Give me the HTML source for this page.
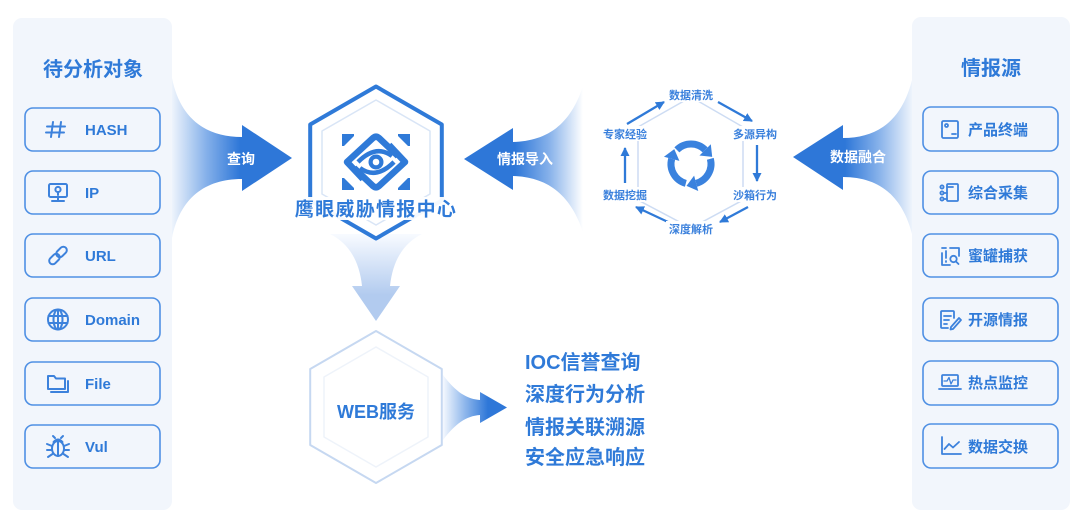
<!DOCTYPE html>
<html><head><meta charset="utf-8">
<style>
html,body{margin:0;padding:0;background:#fff;}
svg{display:block;}
text{font-family:"Liberation Sans","Noto Sans CJK SC",sans-serif;font-weight:bold;}
</style></head>
<body>
<svg width="1080" height="526" viewBox="0 0 1080 526" xmlns="http://www.w3.org/2000/svg">
<defs>
  <linearGradient id="gQ" gradientUnits="userSpaceOnUse" x1="172" y1="0" x2="240" y2="0">
    <stop offset="0" stop-color="#eef4fc"/><stop offset="0.5" stop-color="#86b1ea"/><stop offset="1" stop-color="#2e77d8"/>
  </linearGradient>
  <linearGradient id="gI" gradientUnits="userSpaceOnUse" x1="583" y1="0" x2="515" y2="0">
    <stop offset="0" stop-color="#ffffff"/><stop offset="0.5" stop-color="#86b1ea"/><stop offset="1" stop-color="#2e77d8"/>
  </linearGradient>
  <linearGradient id="gD" gradientUnits="userSpaceOnUse" x1="912" y1="0" x2="845" y2="0">
    <stop offset="0" stop-color="#eef4fc"/><stop offset="0.5" stop-color="#86b1ea"/><stop offset="1" stop-color="#2e77d8"/>
  </linearGradient>
  <linearGradient id="gW" gradientUnits="userSpaceOnUse" x1="443" y1="0" x2="488" y2="0">
    <stop offset="0" stop-color="#f4f8fe"/><stop offset="0.5" stop-color="#8cb5eb"/><stop offset="1" stop-color="#2e77d8"/>
  </linearGradient>
  <linearGradient id="gDown" gradientUnits="userSpaceOnUse" x1="0" y1="235" x2="0" y2="295">
    <stop offset="0" stop-color="#f7faff"/><stop offset="1" stop-color="#b2cbef"/>
  </linearGradient>
  <marker id="ah" markerUnits="userSpaceOnUse" markerWidth="10" markerHeight="10" refX="8" refY="5" orient="auto">
    <path d="M0,0.5 L9,5 L0,9.5 Z" fill="#2f7ad8"/>
  </marker>
</defs>

<!-- Left panel -->
<rect x="13" y="18" width="159" height="492" rx="9" fill="#f2f6fc"/>
<text x="93" y="76" font-size="20" fill="#2f7ad8" text-anchor="middle">待分析对象</text>
<g fill="none" stroke="#4f90e4" stroke-width="1.6">
  <rect x="25" y="108" width="135" height="43" rx="8"/>
  <rect x="25" y="171" width="135" height="43" rx="8"/>
  <rect x="25" y="234" width="135" height="43" rx="8"/>
  <rect x="25" y="298" width="135" height="43" rx="8"/>
  <rect x="25" y="362" width="135" height="43" rx="8"/>
  <rect x="25" y="425" width="135" height="43" rx="8"/>
</g>
<g font-size="15" fill="#2f7ad8">
  <text x="85" y="135">HASH</text>
  <text x="85" y="198">IP</text>
  <text x="85" y="261">URL</text>
  <text x="85" y="325">Domain</text>
  <text x="85" y="389">File</text>
  <text x="85" y="452">Vul</text>
</g>
<!-- left icons -->
<g fill="none" stroke="#3d82dc" stroke-width="2" stroke-linecap="round" stroke-linejoin="round">
  <path d="M53,122 L51,137 M61,122 L59,137 M47,126.5 L65,126.5 M46,132.5 L64,132.5"/>
  <rect x="49" y="184" width="18" height="13" rx="1.5"/>
  <path d="M52,201 L64,201 M58,197 L58,201"/>
  <circle cx="58" cy="189.5" r="2.6"/>
  <path d="M58,192 L58,195"/>
  <g transform="rotate(-45 58 255.5)">
    <rect x="47" y="252" width="12" height="7" rx="3.5"/>
    <rect x="57" y="252" width="12" height="7" rx="3.5"/>
  </g>
  <circle cx="58" cy="319.5" r="10"/>
  <ellipse cx="58" cy="319.5" rx="4.5" ry="10"/>
  <path d="M48.5,316 L67.5,316 M48.5,323 L67.5,323 M58,309.5 L58,329.5"/>
  <path d="M48,376 L54,376 L56,378.5 L65,378.5 L65,389 L48,389 Z"/>
  <path d="M68,381 L68,392 L51,392"/>
  <ellipse cx="58" cy="448.5" rx="6" ry="7.5"/>
  <path d="M53.5,442 Q58,437 62.5,442 M58,441 L58,456 M52,446 L47,444 M52,450 L47,450 M52.5,454 L48,457 M64,446 L69,444 M64,450 L69,450 M63.5,454 L68,457 M55,438 L53,436 M61,438 L63,436"/>
</g>

<!-- Right panel -->
<rect x="912" y="17" width="158" height="493" rx="9" fill="#f2f6fc"/>
<text x="991" y="75" font-size="20" fill="#2f7ad8" text-anchor="middle">情报源</text>
<g fill="none" stroke="#4f90e4" stroke-width="1.6">
  <rect x="923" y="107" width="135" height="44" rx="8"/>
  <rect x="923" y="171" width="135" height="43" rx="8"/>
  <rect x="923" y="234" width="135" height="43" rx="8"/>
  <rect x="923" y="298" width="135" height="43" rx="8"/>
  <rect x="923" y="361" width="135" height="44" rx="8"/>
  <rect x="923" y="424" width="135" height="44" rx="8"/>
</g>
<g font-size="15" fill="#2f7ad8">
  <text x="968" y="135">产品终端</text>
  <text x="968" y="198">综合采集</text>
  <text x="968" y="261">蜜罐捕获</text>
  <text x="968" y="325">开源情报</text>
  <text x="968" y="388">热点监控</text>
  <text x="968" y="452">数据交换</text>
</g>
<!-- right icons -->
<g fill="none" stroke="#3d82dc" stroke-width="1.8" stroke-linecap="round" stroke-linejoin="round">
  <rect x="942" y="121" width="16" height="17" rx="1.5"/>
  <circle cx="946.5" cy="125.5" r="1.5"/>
  <path d="M952,134 L956,134"/>
  <rect x="947" y="184" width="11" height="17" rx="1"/>
  <path d="M947,187 L953,187"/>
  <circle cx="942" cy="187" r="1.6"/><circle cx="942" cy="193" r="1.6"/><circle cx="942" cy="199" r="1.6"/>
  <path d="M943.6,193 L947,193 M943.6,199 L947,199"/>
  <path d="M950,248 L959,248 L959,256 M942,253 L942,265 L950,265 M942,248 L946,248"/>
  <path d="M946,251 L946,258 M946,261 L946,262"/>
  <circle cx="953.5" cy="259" r="3.2"/>
  <path d="M956,261.5 L958.5,264"/>
  <path d="M954,318 L954,312 Q954,311 953,311 L942,311 Q941,311 941,312 L941,327 Q941,328 942,328 L948,328"/>
  <path d="M944,316 L951,316 M944,320 L949,320 M944,324 L947,324"/>
  <path d="M951,327 L959,318 L961,320 L953,329 L950.5,329.5 Z"/>
  <rect x="942" y="375" width="16" height="11" rx="1"/>
  <path d="M939,389 L961,389"/>
  <path d="M944,381 L947,381 L949,377.5 L951,384 L953,380 L956,380" stroke-width="1.3"/>
  <path d="M942,437 L942,454 L961,454"/>
  <path d="M944.5,449 L949,444 L953,447.5 L959,442"/>
</g>

<!-- 查询 arrow -->
<path d="M172,78 C180,118 205,137 242,137 L242,125 L292,158 L242,191 L242,179 C205,179 180,198 172,238 Z" fill="url(#gQ)"/>
<text x="241" y="164" font-size="14" fill="#ffffff" text-anchor="middle">查询</text>

<!-- 情报导入 arrow -->
<path d="M464,159 L513,128 L513,142 C546,141 570,126 583,86 L583,232 C570,193 546,177 513,176 L513,190 Z" fill="url(#gI)"/>
<text x="525" y="164" font-size="14" fill="#ffffff" text-anchor="middle">情报导入</text>

<!-- 数据融合 arrow -->
<path d="M793,157 L843,125 L843,138 C878,138 902,120 912,80 L912,234 C902,195 878,177 843,177 L843,190 Z" fill="url(#gD)"/>
<text x="858" y="162" font-size="14" fill="#ffffff" text-anchor="middle">数据融合</text>

<!-- Down arrow -->
<path d="M330,234 Q358,248 362,286 L352,286 L376,321 L400,286 L390,286 Q394,248 422,234 Z" fill="url(#gDown)"/>

<!-- Main hexagon -->
<path d="M376,86.5 L441.8,124.5 L441.8,200.5 L376,238.5 L310.2,200.5 L310.2,124.5 Z" fill="#ffffff" stroke="#2f7ad8" stroke-width="4" stroke-linejoin="round"/>
<path d="M376,100 L430,131 L430,194 L376,225 L322,194 L322,131 Z" fill="none" stroke="#d9e5f6" stroke-width="1.5" stroke-linejoin="round"/>
<!-- logo -->
<g fill="#2f7ad8">
  <polygon points="342,134 354,134 354,136 344,146 342,146"/>
  <polygon points="410,134 398,134 398,136 408,146 410,146"/>
  <polygon points="342,190 354,190 354,188 344,178 342,178"/>
  <polygon points="410,190 398,190 398,188 408,178 410,178"/>
  <circle cx="376" cy="162" r="7.5"/>
</g>
<circle cx="376" cy="162" r="3.3" fill="#ffffff"/>
<g fill="none" stroke="#2f7ad8" stroke-width="6.5" stroke-linejoin="round" stroke-linecap="butt">
  <path d="M363,179 L347,162 L373,138 Q376,135.5 379,138 L398,156"/>
  <path d="M389,145 L405,162 L379,186 Q376,188.5 373,186 L354,168"/>
  <path d="M358,162 Q376,144 392,156" stroke-width="4.5"/>
  <path d="M394,162 Q376,180 360,168" stroke-width="4.5"/>
</g>
<rect x="293" y="197" width="166" height="23" fill="#ffffff" opacity="0.95"/>
<text x="376" y="215.5" font-size="19" fill="#2f7ad8" text-anchor="middle" letter-spacing="1.3">鹰眼威胁情报中心</text>

<!-- WEB hexagon -->
<path d="M376,331 L441.8,369 L441.8,445 L376,483 L310.2,445 L310.2,369 Z" fill="#ffffff" stroke="#c6d8f1" stroke-width="2" stroke-linejoin="round"/>
<path d="M376,347 L428,377 L428,437 L376,467 L324,437 L324,377 Z" fill="none" stroke="#eef3fa" stroke-width="1.5" stroke-linejoin="round"/>
<text x="376" y="418" font-size="18" fill="#2f7ad8" text-anchor="middle">WEB服务</text>

<!-- WEB arrow -->
<path d="M443,375 C455,391 466,399 480,400 L480,392 L507,407.5 L480,423 L480,415 C466,416 455,424 443,440 Z" fill="url(#gW)"/>

<g font-size="20" fill="#2f7ad8">
  <text x="525" y="369">IOC信誉查询</text>
  <text x="525" y="401">深度行为分析</text>
  <text x="525" y="434">情报关联溯源</text>
  <text x="525" y="464">安全应急响应</text>
</g>

<!-- Cycle -->
<path d="M691,97 L743,127 L743,200 L691,228 L638,200 L638,127 Z" fill="none" stroke="#cddcf3" stroke-width="1.5"/>
<g stroke="#2f7ad8" stroke-width="2.3" fill="none" marker-end="url(#ah)">
  <path d="M627,124 L664,102"/>
  <path d="M718,102 L752,121"/>
  <path d="M757,145 L757,181"/>
  <path d="M748,207 L720,222"/>
  <path d="M668,222 L636,207"/>
  <path d="M625,183 L625,148"/>
</g>
<g fill="#ffffff">
  <rect x="666" y="87" width="50" height="15"/>
  <rect x="730" y="126" width="50" height="15"/>
  <rect x="730" y="187" width="50" height="15"/>
  <rect x="666" y="221" width="50" height="15"/>
  <rect x="600" y="187" width="50" height="15"/>
  <rect x="600" y="126" width="50" height="15"/>
</g>
<g font-size="11" fill="#3a80dc" text-anchor="middle">
  <text x="691" y="99">数据清洗</text>
  <text x="755" y="138">多源异构</text>
  <text x="755" y="199">沙箱行为</text>
  <text x="691" y="233">深度解析</text>
  <text x="625" y="199">数据挖掘</text>
  <text x="625" y="138">专家经验</text>
</g>
<!-- recycle icon -->
<g fill="none" stroke="#3a82de" stroke-width="7">
  <path d="M676.86,149.86 A20,20 0 0 1 705.14,149.86"/>
  <path d="M710.32,158.82 A20,20 0 0 1 696.18,183.32"/>
  <path d="M685.82,183.32 A20,20 0 0 1 671.68,158.82"/>
</g>
<g fill="#3a82de">
  <polygon points="712.21,156.93 710.80,144.20 699.48,155.52"/>
  <polygon points="686.52,185.91 698.25,191.05 694.11,175.59"/>
  <polygon points="674.27,149.16 663.95,156.75 679.41,160.89"/>
</g>
</svg>
</body></html>
